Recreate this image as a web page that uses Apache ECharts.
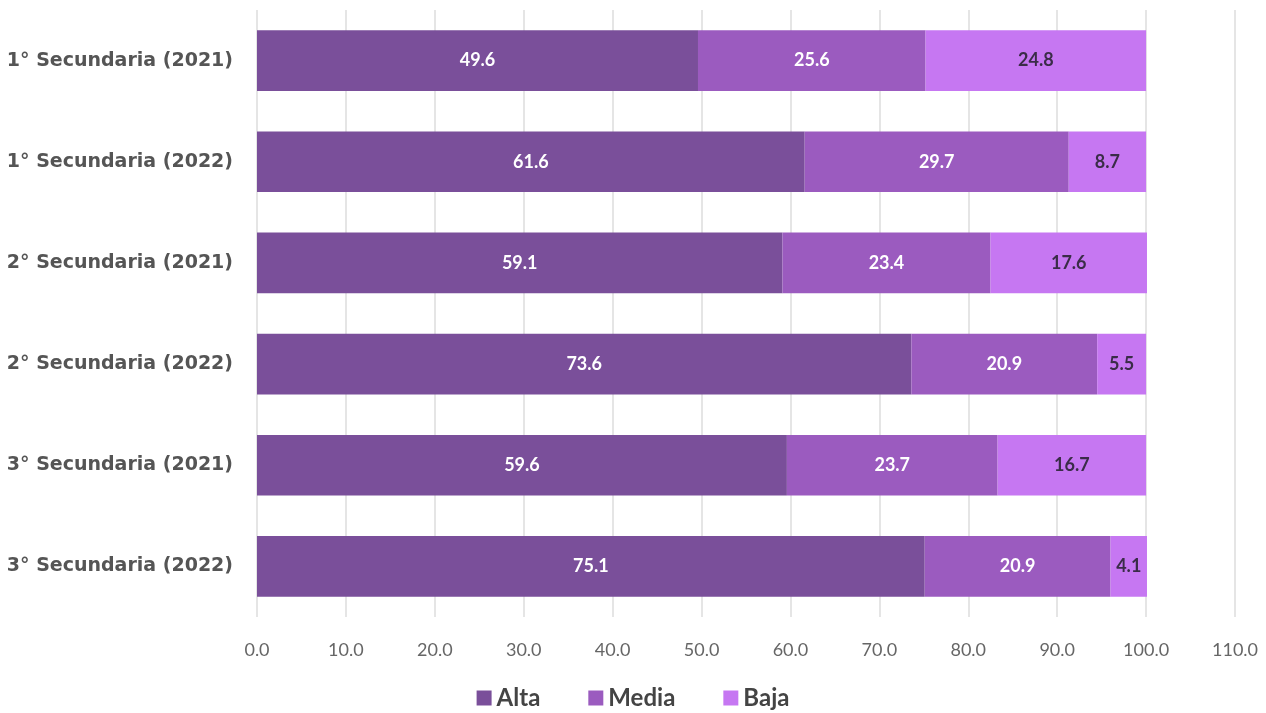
<!DOCTYPE html>
<html>
<head>
<meta charset="utf-8">
<script src="https://cdn.jsdelivr.net/npm/echarts@6/dist/echarts.min.js"></script>
<style>html,body{margin:0;padding:0;background:#fff}#c{width:1266px;height:713px}</style>
</head>
<body>
<div id="c"></div>
<script>
const categories = ['1° Secundaria (2021)','1° Secundaria (2022)','2° Secundaria (2021)','2° Secundaria (2022)','3° Secundaria (2021)','3° Secundaria (2022)'];
const alta  = [49.6, 61.6, 59.1, 73.6, 59.6, 75.1];
const media = [25.6, 29.7, 23.4, 20.9, 23.7, 20.9];
const baja  = [24.8, 8.7, 17.6, 5.5, 16.7, 4.1];
const xTicks = [0,10,20,30,40,50,60,70,80,90,100,110];

const font = 'Lato, "Noto Sans", sans-serif';
function mk(name, data, color, labelColor) {
  return {
    name, type: 'bar', stack: 'total', data, barWidth: '60%',
    itemStyle: { color },
    label: { show: true, position: 'inside', color: labelColor, fontFamily: font, fontSize: 18, fontWeight: 'bold',
      formatter: p => p.value.toFixed(1) }
  };
}
const chart = echarts.init(document.getElementById('c'));
chart.setOption({
  animation: false,
  grid: { left: 257, right: 31, top: 10, bottom: 96 },
  legend: {
    bottom: -2, left: 'center', itemWidth: 15, itemHeight: 15, itemGap: 48, icon: 'rect',
    textStyle: { fontFamily: font, fontSize: 24, fontWeight: 'bold', color: '#444' },
    data: ['Alta','Media','Baja']
  },
  xAxis: {
    type: 'value', min: xTicks[0], max: xTicks[xTicks.length - 1], interval: xTicks[1] - xTicks[0],
    axisLine: { show: false }, axisTick: { show: false },
    splitLine: { show: true, lineStyle: { color: '#dcdcdc', width: 1.5 } },
    axisLabel: { color: '#666', fontFamily: font, fontSize: 18, margin: 24, formatter: v => v.toFixed(1) }
  },
  yAxis: {
    type: 'category', data: categories, inverse: true,
    axisLine: { show: false }, axisTick: { show: false },
    axisLabel: { color: '#555', fontFamily: '"DejaVu Sans", sans-serif', fontSize: 19, fontWeight: 'bold', margin: 24 }
  },
  series: [
    mk('Alta', alta, '#7A4F9A', '#ffffff'),
    mk('Media', media, '#9B5BBF', '#ffffff'),
    mk('Baja', baja, '#C677F2', '#3a2c48')
  ]
});
</script>
</body>
</html>
